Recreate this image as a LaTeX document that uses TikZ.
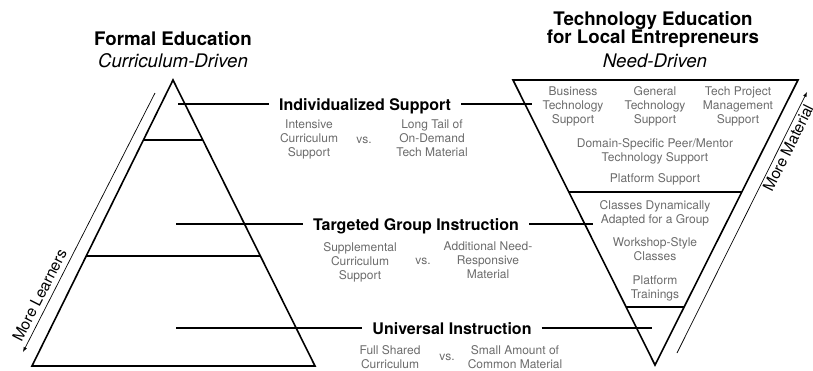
\documentclass[tikz,border=0pt]{standalone}
\usepackage{fontspec}
\setmainfont{TeX Gyre Heros}
\usepackage{tikz}
\usetikzlibrary{arrows}
\usetikzlibrary{calc}
\usetikzlibrary{positioning}
\tikzset{edge/.style = {line width = 1.6}}
\tikzset{link/.style = {line width = 1.3}}
\tikzset{hintline/.style = {line width = 0.7}}
\tikzset{tier/.style = {font = \fontsize{16}{18}\selectfont\bfseries, inner xsep = 10, inner ysep = 0, anchor = base}}
\tikzset{note/.style = {font = \fontsize{12}{14}\selectfont, text = mgrey, align = center, inner sep = 0, anchor = north}}
\tikzset{heading/.style = {font = \fontsize{18.7}{20}\selectfont\bfseries, inner sep = 0, anchor = base}}
\tikzset{slogan/.style = {font = \fontsize{18.7}{20}\selectfont\itshape, inner sep = 0, anchor = base}}
\tikzset{hint/.style = {font = \fontsize{15.5}{17}\selectfont, sloped, inner sep = 1}}
\definecolor{mgrey}{rgb}{0.42, 0.42, 0.42}

\begin{document}
\begin{tikzpicture}[x = 1pt, y = -1pt]
      \useasboundingbox (0, 0) rectangle (813, 370);

      % titles
      \node [heading] (ftitle) at (173, 45) {Formal Education};
      \node [slogan] (fsub) at (173, 67) {Curriculum-Driven};
      \node [heading] (ttitle) at (653, 25) {Technology Education};
      \node [heading] (ttitle2) at (653, 43) {for Local Entrepreneurs};
      \node [slogan] (tsub) at (655, 67) {Need-Driven};

      % formal pyramid
      \coordinate (fa) at (173, 80);
      \coordinate (fl) at (32, 366);
      \coordinate (fr) at (315, 366);
      \draw [edge] (fa) -- (fl) -- (fr) -- cycle;
      \draw [edge] ($(fa)!0.21!(fl)$) -- ($(fa)!0.21!(fr)$);
      \draw [edge] ($(fa)!0.615!(fl)$) -- ($(fa)!0.615!(fr)$);

      % need pyramid
      \coordinate (tl) at (513, 80);
      \coordinate (tr) at (798, 80);
      \coordinate (ta) at (655, 365);
      \draw [edge] (tl) -- (tr) -- (ta) -- cycle;
      \draw [edge] ($(tl)!0.393!(ta)$) -- ($(tr)!0.393!(ta)$);
      \draw [edge] ($(tl)!0.797!(ta)$) -- ($(tr)!0.797!(ta)$);

      % tiers
      \node [tier] (indiv) at (365, 110) {Individualized Support};
      \node [tier] (group) at (416, 230) {Targeted Group Instruction};
      \node [tier] (univ) at (452, 334) {Universal Instruction};

      \coordinate (i1) at (178, 104);
      \coordinate (i2) at (532, 104);
      \coordinate (g1) at (176, 224);
      \coordinate (g2) at (593, 224);
      \coordinate (u1) at (176, 328);
      \coordinate (u2) at (652, 328);
      \draw [link] (i1) -- (i1 -| indiv.west);
      \draw [link] (i2 -| indiv.east) -- (i2);
      \draw [link] (g1) -- (g1 -| group.west);
      \draw [link] (g2 -| group.east) -- (g2);
      \draw [link] (u1) -- (u1 -| univ.west);
      \draw [link] (u2 -| univ.east) -- (u2);

      \node [note] (iform) at (309, 120) {Intensive\\Curriculum\\Support};
      \node [note, anchor = base] (ivs) at (364, 143) {vs.};
      \node [note] (ineed) at (432, 120) {Long Tail of\\On-Demand\\Tech Material};
      \node [note] (gform) at (360, 242) {Supplemental\\Curriculum\\Support};
      \node [note, anchor = base] (gvs) at (423, 264) {vs.};
      \node [note] (gneed) at (488, 242) {Additional Need-\\Responsive\\Material};
      \node [note] (uform) at (390, 345) {Full Shared\\Curriculum};
      \node [note, anchor = base] (uvs) at (447, 360) {vs.};
      \node [note] (uneed) at (515, 345) {Small Amount of\\Common Material};

      % need-driven offer
      \node [note] (bts) at (573, 87) {Business\\Technology\\Support};
      \node [note] (gts) at (655, 86) {General\\Technology\\Support};
      \node [note] (tpm) at (738, 87) {Tech Project\\Management\\Support};
      \node [note] (peer) at (655, 138) {Domain-Specific Peer/Mentor\\Technology Support};
      \node [note] (plat) at (655, 173) {Platform Support};
      \node [note] (dyn) at (655, 200) {Classes Dynamically\\Adapted for a Group};
      \node [note] (work) at (655, 237) {Workshop-Style\\Classes};
      \node [note] (train) at (655, 276) {Platform\\Trainings};

      % growth arrows
      \coordinate (lb) at (23, 352);
      \coordinate (lt) at (155, 93);
      \draw [hintline, latex-] (lb) -- (lt) node [hint, pos = 0.2, above = 4pt] (learn) {More Learners};
      \coordinate (mb) at (677, 353);
      \coordinate (mt) at (807, 92);
      \draw [hintline, -latex] (mb) -- (mt) node [hint, pos = 0.8, below = 1pt] (mat) {More Material};

    \end{tikzpicture}
\end{document}
